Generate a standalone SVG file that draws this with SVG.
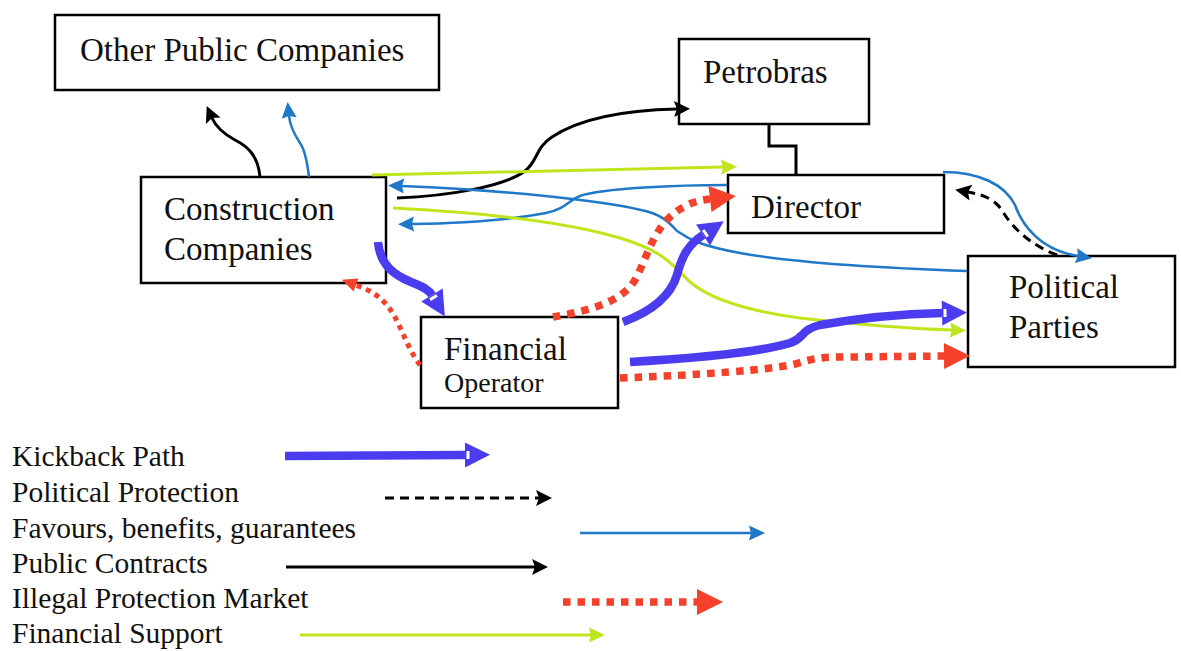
<svg xmlns="http://www.w3.org/2000/svg" width="1181" height="651" viewBox="0 0 1181 651">
<style>
.box{fill:#fff;stroke:#000;stroke-width:2.5}
.lbl{font-family:"Liberation Serif","Times New Roman",serif;font-size:33px;fill:#111}
.lg{font-family:"Liberation Serif","Times New Roman",serif;font-size:29.5px;fill:#111}
.k{fill:none;stroke:#4b3cf0;stroke-width:8.5}
.pc{fill:none;stroke:#000;stroke-width:3}
.pp{fill:none;stroke:#000;stroke-width:3;stroke-dasharray:9 6}
.fv{fill:none;stroke:#1f78c8;stroke-width:2.5}
.ip{fill:none;stroke:#f5402a;stroke-width:7.5;stroke-dasharray:7.5 7}
.ips{fill:none;stroke:#f5402a;stroke-width:5;stroke-dasharray:5 5}
.fs{fill:none;stroke:#bfe61c;stroke-width:3}
</style>
<defs>
<marker id="mk" markerUnits="userSpaceOnUse" markerWidth="30" markerHeight="30" refX="0" refY="0" orient="auto" overflow="visible">
<polygon points="0,-12.5 25,0 0,12.5" fill="#4b3cf0"/><rect x="1.5" y="-4" width="3" height="8" fill="#fff"/>
</marker>
<marker id="mpc" markerUnits="userSpaceOnUse" markerWidth="20" markerHeight="20" refX="3" refY="0" orient="auto" overflow="visible">
<polygon points="0,-8 16,0 0,8 3,0" fill="#000"/>
</marker>
<marker id="mpp" markerUnits="userSpaceOnUse" markerWidth="20" markerHeight="20" refX="3" refY="0" orient="auto" overflow="visible">
<polygon points="0,-8 16,0 0,8 3,0" fill="#000"/>
</marker>
<marker id="mfv" markerUnits="userSpaceOnUse" markerWidth="20" markerHeight="20" refX="2" refY="0" orient="auto" overflow="visible">
<polygon points="0,-7.5 16,0 0,7.5 2,0" fill="#1f78c8"/>
</marker>
<marker id="mip" markerUnits="userSpaceOnUse" markerWidth="30" markerHeight="30" refX="0" refY="0" orient="auto" overflow="visible">
<polygon points="0,-13 26,0 0,13" fill="#f5402a"/>
</marker>
<marker id="mips" markerUnits="userSpaceOnUse" markerWidth="20" markerHeight="20" refX="0" refY="0" orient="auto" overflow="visible">
<polygon points="0,-7 15,0 0,7" fill="#f5402a"/>
</marker>
<marker id="mfs" markerUnits="userSpaceOnUse" markerWidth="20" markerHeight="20" refX="2" refY="0" orient="auto" overflow="visible">
<polygon points="0,-7.5 16,0 0,7.5 2,0" fill="#bfe61c"/>
</marker>
</defs>

<g id="node-other-public">
<rect class="box" x="55" y="15" width="384" height="75"/>
<text class="lbl" x="80" y="61">Other Public Companies</text>
</g>
<g id="node-petrobras">
<rect class="box" x="679" y="39" width="190" height="85"/>
<text class="lbl" x="703" y="83">Petrobras</text>
</g>
<g id="node-director">
<rect class="box" x="728" y="175" width="216" height="58"/>
<text class="lbl" x="751" y="218">Director</text>
</g>
<g id="node-construction">
<rect class="box" x="141" y="177" width="245" height="106"/>
<text class="lbl" x="164" y="220">Construction</text>
<text class="lbl" x="164" y="260">Companies</text>
</g>
<g id="node-financial">
<rect class="box" x="421" y="317" width="197" height="91"/>
<text class="lbl" x="444" y="360">Financial</text>
<text class="lbl" x="444" y="392" style="font-size:28px">Operator</text>
</g>
<g id="node-political">
<rect class="box" x="968" y="256" width="207" height="111"/>
<text class="lbl" x="1009" y="298">Political</text>
<text class="lbl" x="1009" y="338">Parties</text>
</g>

<g id="connectors">
<path class="pc" d="M769,124 V146 H796 V175" stroke-width="2"/>
<path class="pc" d="M260,177 C258,155 247,146 235,140 C224,134 216,127 212,118" marker-end="url(#mpc)"/>
<path class="fv" d="M309,177 C307,160 305,150 300,143 C294,134 290,126 289,116" marker-end="url(#mfv)"/>
<path class="pc" d="M397,198 C450,196 505,186 525,171 C538,161 535,148 552,137 C582,117 630,110 677,109" marker-end="url(#mpc)"/>
<path class="fs" d="M372,175 C500,172 620,169 723,167" marker-end="url(#mfs)"/>
<path class="fv" d="M727,185 C680,185 602,188 580,196 C567,201 566,209 546,213 C510,220 470,223 412,224" marker-end="url(#mfv)"/>
<path class="fv" d="M967,271 C880,268 790,262 740,253 C702,246 690,240 677,231 C669,222 661,214 641,210 C600,200 500,190 402,186" marker-end="url(#mfv)"/>
<path class="fs" d="M393,208 C470,212 560,220 620,238 C660,250 670,262 683,275 C700,295 740,310 800,318 C870,326 920,329 952,330" marker-end="url(#mfs)"/>
<path class="fv" d="M943,172 C980,172 1005,185 1015,205 C1022,225 1040,250 1078,256" marker-end="url(#mfv)"/>
<path class="pp" d="M1057,255 C1030,245 1012,227 1003,212 C996,200 985,195 968,192" marker-end="url(#mpp)"/>
<path class="ips" d="M420,365 C405,345 400,320 386,304 C377,294 367,289 356,285" marker-end="url(#mips)"/>
<path class="ip" d="M553,317 C580,312 620,305 635,280 C645,262 650,240 665,222 C680,206 693,201 710,199" marker-end="url(#mip)"/>
<path class="ip" d="M620,378 C700,375 770,370 795,364 C815,358 820,357 850,357 L944,356" marker-end="url(#mip)"/>
<path class="k" d="M378,242 C380,265 394,275 411,282 C424,287 429,290 432,295" marker-end="url(#mk)"/>
<path class="k" d="M623,322 C650,312 670,298 677,275 C682,256 688,245 703,235" marker-end="url(#mk)"/>
<path class="k" d="M630,362 C700,358 760,352 790,343 C805,338 800,330 820,325 C860,318 900,314 942,313" marker-end="url(#mk)"/>
</g>

<g id="legend">
<text class="lg" x="12" y="466">Kickback Path</text>
<path class="k" d="M285,456 L465,455" marker-end="url(#mk)"/>
<text class="lg" x="12" y="502">Political Protection</text>
<path class="pp" d="M385,498 L539,498" marker-end="url(#mpp)"/>
<text class="lg" x="12" y="538">Favours, benefits, guarantees</text>
<path class="fv" d="M580,533 L751,533" marker-end="url(#mfv)"/>
<text class="lg" x="12" y="573">Public Contracts</text>
<path class="pc" d="M286,567 L535,567" marker-end="url(#mpc)"/>
<text class="lg" x="12" y="608">Illegal Protection Market</text>
<path class="ip" d="M563,602 L697,602" marker-end="url(#mip)"/>
<text class="lg" x="12" y="643">Financial Support</text>
<path class="fs" d="M300,635 L591,635" marker-end="url(#mfs)"/>
</g>
</svg>
